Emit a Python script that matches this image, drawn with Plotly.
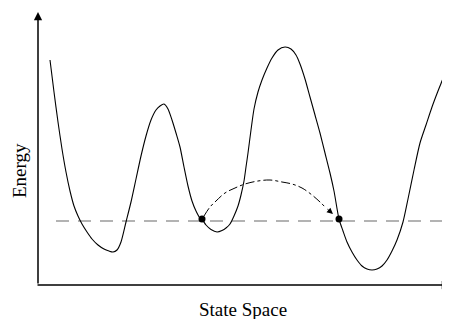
import plotly.graph_objects as go

# Energy landscape (state-space position, energy)
state = [50, 54, 58, 62, 66, 70, 74, 78, 82, 87, 92, 98, 104, 109, 113, 117, 121, 126, 131, 136, 141, 146, 151, 156,
         160, 164, 168, 172, 176, 180, 184, 188, 192, 196, 200, 202, 206, 211, 217, 222, 226, 230, 234, 238, 241, 244,
         246, 248, 251, 254, 258, 262, 267, 272, 278, 285, 291, 296, 300, 305, 310, 315, 320, 325, 330, 334, 339, 343,
         347, 352, 357, 362, 367, 372, 377, 382, 387, 392, 397, 403, 408, 414, 420, 426, 432, 438, 444, 449]
energy = [259, 227, 197, 170, 147, 128, 113, 103, 95, 87, 80, 74, 70, 68, 67, 69, 77, 97, 117, 140, 163, 183, 199, 209,
          213, 215, 210, 199, 186, 172, 152, 133, 118, 108, 101, 99.7, 94, 89.5, 87, 88.5, 91, 95, 103, 113, 124, 138,
          152, 166, 189, 210, 227, 239, 251, 261, 269, 272, 270, 264, 255, 240, 222, 204, 186, 166, 146, 128, 100, 88,
          77, 67, 59, 53, 50, 49, 50, 53, 59, 68, 79, 97, 120, 149, 176, 194, 212, 228, 243, 257]

threshold_energy = 98
threshold_x = [56, 450]

jump_x = [202, 339]
jump_e = [100, 100]

arc_x = [204, 210, 216, 225, 235, 245, 258, 270, 282, 292, 302, 312, 320, 326]
arc_e = [103, 112, 118, 126, 131, 135, 138, 139, 137, 135, 131, 124, 117, 111]
arrow_tip = (333, 105)

axis_origin = (38, 34)
axis_x_end = 450
axis_y_end = 307

fig = go.Figure()

fig.add_trace(go.Scatter(x=threshold_x, y=[threshold_energy, threshold_energy], mode="lines",
                         line=dict(color="#9a9a9a", width=1.6, dash="13px,9px"), hoverinfo="skip"))

fig.add_trace(go.Scatter(x=state, y=energy, mode="lines",
                         line=dict(color="black", width=1.1, shape="spline", smoothing=0.7), hoverinfo="skip"))

fig.add_trace(go.Scatter(x=arc_x, y=arc_e, mode="lines",
                         line=dict(color="black", width=1, dash="dashdot", shape="spline"), hoverinfo="skip"))

fig.add_trace(go.Scatter(x=jump_x, y=jump_e, mode="markers", marker=dict(color="black", size=7), hoverinfo="skip"))

# arrowhead at end of arc
fig.add_annotation(x=arrow_tip[0], y=arrow_tip[1], ax=arc_x[-1], ay=arc_e[-1], xref="x", yref="y", axref="x", ayref="y",
                   showarrow=True, arrowhead=2, arrowsize=1.2, arrowwidth=1, arrowcolor="black", text="")

# axes with arrows
fig.add_annotation(x=axis_origin[0], y=axis_y_end, ax=axis_origin[0], ay=axis_origin[1], xref="x", yref="y",
                   axref="x", ayref="y", showarrow=True, arrowhead=2, arrowsize=1.1, arrowwidth=1.5,
                   arrowcolor="black", text="")
fig.add_annotation(x=axis_x_end, y=axis_origin[1], ax=axis_origin[0] - 2, ay=axis_origin[1], xref="x", yref="y",
                   axref="x", ayref="y", showarrow=True, arrowhead=2, arrowsize=1.1, arrowwidth=1.5,
                   arrowcolor="black", text="")

fig.add_annotation(x=243, y=10, xref="x", yref="y", text="State Space", showarrow=False,
                   font=dict(family="Liberation Serif", size=19, color="black"))
fig.add_annotation(x=19, y=148, xref="x", yref="y", text="Energy", showarrow=False, textangle=-90,
                   font=dict(family="Liberation Serif", size=19, color="black"))

# page body has an 8px margin; figure is sized so its content lands on the 450x319 view
fig.update_layout(width=442, height=311, margin=dict(l=0, r=0, t=0, b=0),
                  paper_bgcolor="white", plot_bgcolor="white", showlegend=False,
                  xaxis=dict(range=[8, 450], visible=False, fixedrange=True),
                  yaxis=dict(range=[0, 311], visible=False, fixedrange=True))

fig.write_html("out.html", config={"displayModeBar": False})
